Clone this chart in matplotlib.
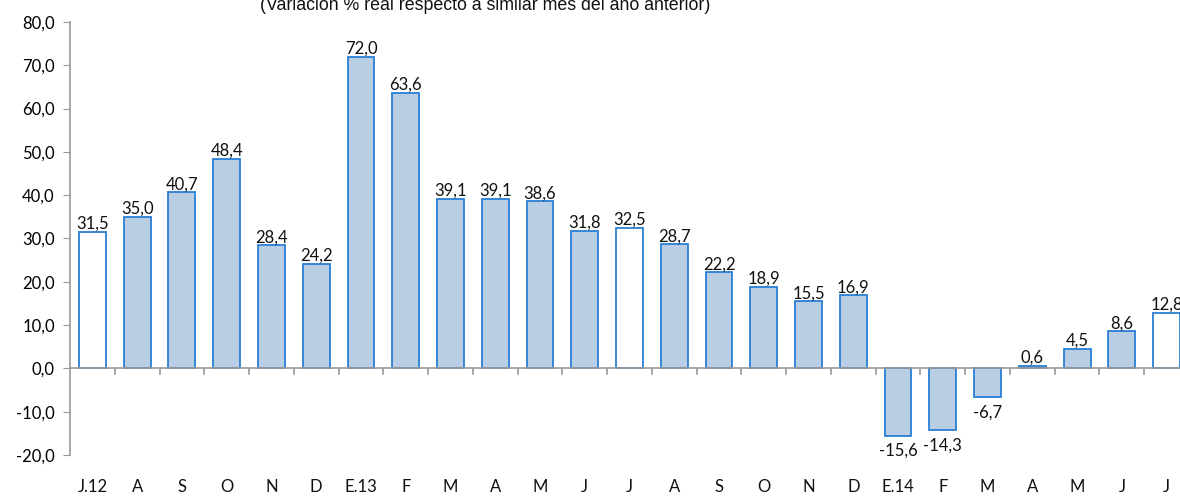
import matplotlib.pyplot as plt
import numpy as np

plt.rcParams["font.family"] = ["Lato", "DejaVu Sans"]

# monthly data, Jul 2012 - Jul 2014
months = ["J.12", "A", "S", "O", "N", "D", "E.13", "F", "M", "A", "M", "J",
          "J", "A", "S", "O", "N", "D", "E.14", "F", "M", "A", "M", "J", "J"]
values = [31.5, 35.0, 40.7, 48.4, 28.4, 24.2, 72.0, 63.6, 39.1, 39.1, 38.6, 31.8,
          32.5, 28.7, 22.2, 18.9, 15.5, 16.9, -15.6, -14.3, -6.7, 0.6, 4.5, 8.6, 12.8]
highlight = [0, 12, 24]  # July bars drawn white

fig = plt.figure(figsize=(11.8, 4.97), dpi=100)
ax = fig.add_axes([70 / 1180, 42 / 497, 1119 / 1180, 433 / 497])

x = np.arange(len(months))
colors = ["white" if i in highlight else "#B9CDE5" for i in x]
ax.bar(x, values, width=0.6, color=colors, edgecolor="#2A7FD4", linewidth=1.3, zorder=2)

fs = 12
for xi, v in zip(x, values):
    txt = f"{v:.1f}".replace(".", ",")
    if v >= 0:
        ax.text(xi, v, txt, ha="center", va="bottom", fontsize=fs, color="#111111", zorder=4)
    else:
        ax.text(xi, v - 1.6, txt, ha="center", va="top", fontsize=fs, color="#111111")

ax.set_xlim(-0.5, len(months) - 0.5)
ax.set_ylim(-20, 80)
yt = np.arange(-20, 81, 10)
ax.set_yticks(yt)
ax.set_yticklabels([f"{t:.1f}".replace(".", ",") for t in yt], fontsize=fs)
ax.tick_params(axis="y", length=5, color="#999999", direction="out", pad=6)

# category labels below the plot, ticks between categories on the zero line
ax.set_xticks([])
for xi, m in zip(x, months):
    ax.text(xi, -27.4, m, ha="center", va="center", fontsize=fs, color="#111111")
for t in np.arange(0.5, len(months), 1.0):
    ax.plot([t, t], [0, -1.2], color="#999999", linewidth=1.2, zorder=3, clip_on=False)

ax.spines["top"].set_visible(False)
ax.spines["right"].set_visible(False)
ax.spines["bottom"].set_visible(False)
ax.spines["left"].set_color("#999999")
ax.spines["left"].set_linewidth(1.2)
ax.axhline(0, color="#999999", linewidth=1.2, zorder=3)

fig.text(485 / 1180, 1 - 5 / 497, "(Variación % real respecto a similar mes del año anterior)",
         ha="center", va="center", fontsize=12.8, family=["Liberation Sans"], color="#111111")

fig.savefig("out.png", dpi=100)
